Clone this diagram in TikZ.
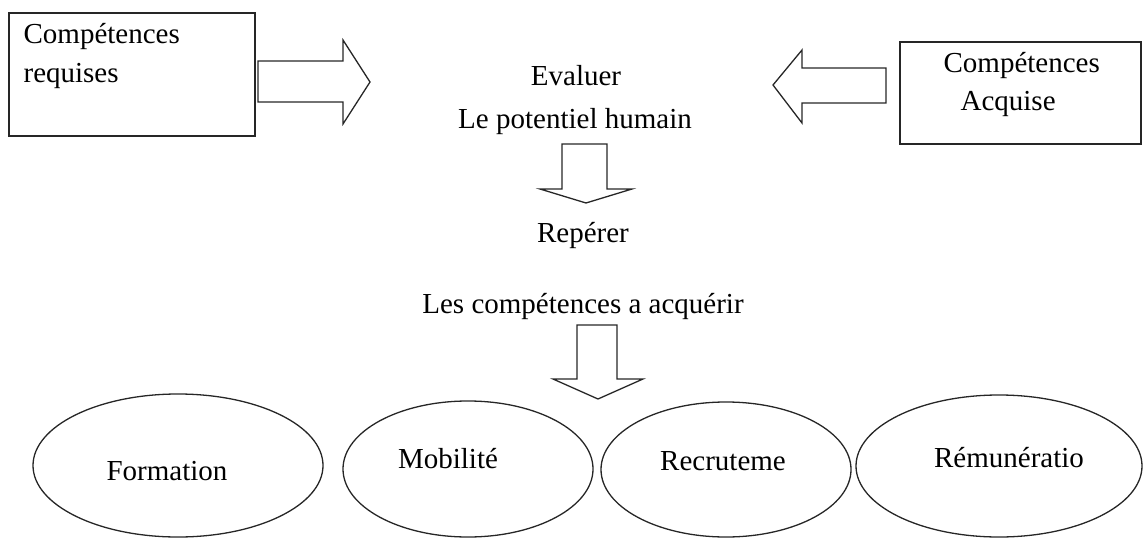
\documentclass[tikz,border=0pt]{standalone}
\usepackage{fontspec}
\setmainfont{Liberation Serif}
\begin{document}
\begin{tikzpicture}[x=1pt,y=-1pt,
  line width=1.2pt,
  lbl/.style={inner sep=0pt,anchor=base,font=\fontsize{29}{34}\selectfont},
  lblw/.style={lbl,anchor=base west},
  shapeline/.style={draw=black!85,line width=1.3pt,line join=miter}]
\useasboundingbox (0,0) rectangle (1143,538);
% boxes
\draw[shapeline] (9,13) rectangle (255,136);
\draw[shapeline] (900,42) rectangle (1141,144);
\node[lblw] (req1) at (23,43) {Compétences};
\node[lblw] (req2) at (23,82) {requises};
\node[lblw] (acq1) at (943,72) {Compétences};
\node[lblw] (acq2) at (960,110) {Acquise};
% block arrows
\draw[shapeline] (258,61) -- (343,61) -- (343,40) -- (370,82) -- (343,124) -- (343,102) -- (258,102) -- cycle;
\draw[shapeline] (886,68) -- (802,68) -- (802,50) -- (773,85) -- (802,123) -- (802,103) -- (886,103) -- cycle;
\draw[shapeline] (562,144) -- (607,144) -- (607,189) -- (632,189) -- (586,203) -- (540,189) -- (562,189) -- cycle;
\draw[shapeline] (577,325) -- (617,325) -- (617,379) -- (643,379) -- (598,399) -- (553,379) -- (577,379) -- cycle;
% centre texts
\node[lbl] (eval) at (576,85) {Evaluer};
\node[lbl] (pot) at (575,128) {Le potentiel humain};
\node[lbl] (rep) at (583,242) {Repérer};
\node[lbl] (comp) at (583,313) {Les compétences a acquérir};
% ellipses
\draw[shapeline] (178,465.5) ellipse [x radius=145, y radius=71.5];
\draw[shapeline] (468,469) ellipse [x radius=125, y radius=68];
\draw[shapeline] (726,469.5) ellipse [x radius=125, y radius=67.5];
\draw[shapeline] (999,466) ellipse [x radius=143, y radius=71];
\node[lbl] (form) at (167,480) {Formation};
\node[lbl] (mob) at (448,468) {Mobilité};
\node[lbl] (recr) at (723,470) {Recruteme};
\node[lbl] (rem) at (1009,467) {Rémunératio};
\end{tikzpicture}
\end{document}
